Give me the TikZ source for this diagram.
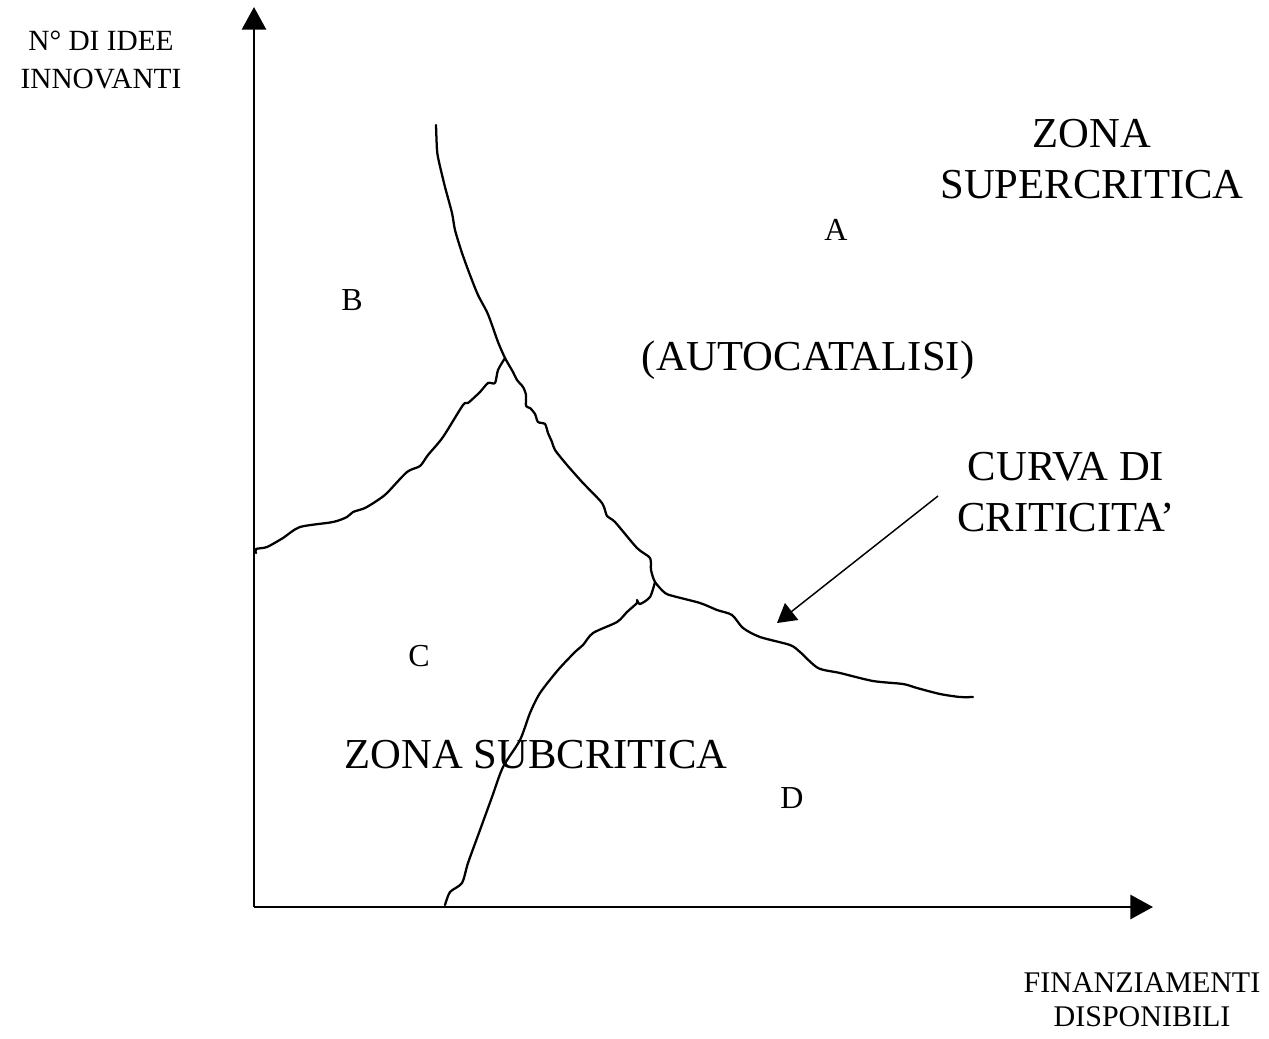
\documentclass[tikz,border=0pt]{standalone}
\usepackage{fontspec}
\setmainfont{Liberation Serif}
\usetikzlibrary{arrows.meta}

\begin{document}
\begin{tikzpicture}[x=0.75pt,y=-0.75pt,
  axis/.style={line width=2.2pt,-{Triangle[length=17pt,width=18pt]}},
  pointer/.style={line width=1.1pt,-{Triangle[length=14pt,width=16pt]}},
  critline/.style={line width=1.7pt,line join=round,line cap=round},
  bigtxt/.style={inner sep=0pt,align=center,font=\fontsize{32}{38}\selectfont},
  smalltxt/.style={inner sep=0pt,align=center},
  zonelbl/.style={inner sep=0pt,anchor=base,font=\fontsize{24}{28}\selectfont}]
  \useasboundingbox (0,0) rectangle (1269,1038);

  % assi
  \coordinate (O) at (254,907);
  \coordinate (ytop) at (254,7);
  \coordinate (xend) at (1153,907);
  \draw[axis] (O) -- (ytop);
  \draw[axis] (O) -- (xend);
  \node[smalltxt,font=\fontsize{22}{28.5}\selectfont] (ylbl) at (101,60) {N° DI IDEE\\INNOVANTI};
  \node[smalltxt,font=\fontsize{22.5}{25.5}\selectfont] (xlbl) at (1142,1000) {FINANZIAMENTI\\DISPONIBILI};

  % curva di criticita'
  \coordinate (jB) at (505,358);
  \coordinate (jC) at (655,582);
  \draw[critline] plot[smooth,tension=0.45] coordinates {(436,125) (437,150) (439,162) (445,187)
    (452,213) (455,230) (462,253) (470,275) (478,295) (487,312) (492,325) (498,342) (jB)
    (513,372) (517,380) (523,387) (526,395) (526,406) (530,408) (535,414) (538,422) (545,424)
    (548,433) (552,442) (555,450) (567,465) (583,483) (602,503) (607,516) (615,522) (637,548)
    (650,558) (651,570) (jC) (665,593) (673,596) (700,603) (717,610) (732,615) (743,628)
    (760,637) (790,645) (800,652) (818,668) (840,673) (873,681) (903,684) (917,688) (940,694)
    (960,697) (973,697)};
  \draw[critline] plot[smooth,tension=0.45] coordinates {(jB) (498,370) (495,383) (488,383)
    (480,392) (468,403) (463,405) (443,437) (428,455) (420,466) (407,472) (387,493) (378,500)
    (365,508) (353,512) (347,517) (333,522) (300,527) (283,538) (267,547) (256,549) (256,553)};
  \draw[critline] plot[smooth,tension=0.45] coordinates {(jC) (650,597) (640,604) (637,600)
    (637,603) (627,612) (617,622) (593,633) (583,645) (575,652) (558,670) (540,693) (530,713)
    (520,740) (503,767) (492,797) (480,830) (468,863) (462,883) (450,892) (445,905)};

  % zone
  \node[bigtxt] (super) at (1092,159) {ZONA\\SUPERCRITICA};
  \node[zonelbl] (zA) at (836,240) {A};
  \node[zonelbl] (zB) at (352,310) {B};
  \node[bigtxt,anchor=base] (auto) at (808,370) {(AUTOCATALISI)};
  \node[zonelbl] (zC) at (419,666) {C};
  \node[bigtxt,anchor=base] (sub) at (536,768) {ZONA SUBCRITICA};
  \node[zonelbl] (zD) at (792,808) {D};

  % etichetta della curva
  \node[bigtxt] (curva) at (1066,492) {CURVA DI\\CRITICITA’};
  \coordinate (critstart) at (938,496);
  \coordinate (crittip) at (777,623);
  \draw[pointer] (critstart) -- (crittip);
\end{tikzpicture}
\end{document}
